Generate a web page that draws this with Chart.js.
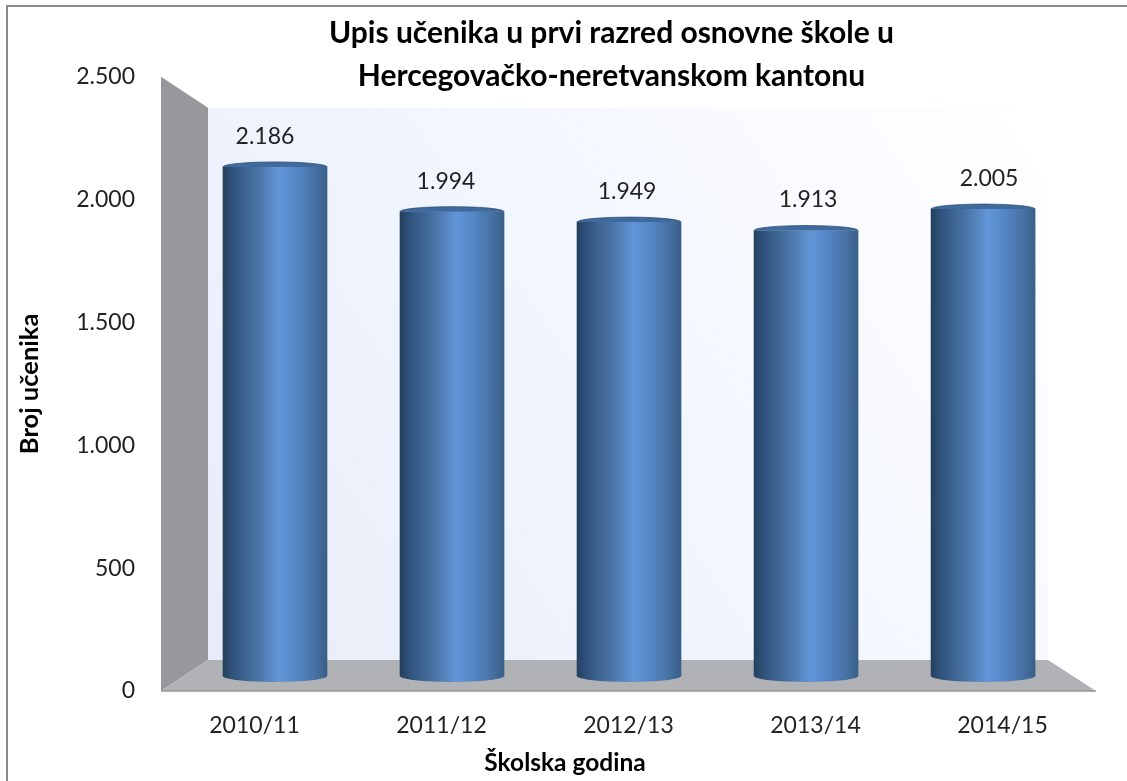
<!DOCTYPE html>
<html><head><meta charset="utf-8">
<style>html,body{margin:0;padding:0;background:#fff}canvas{display:block}</style>
<script src="https://cdn.jsdelivr.net/npm/chart.js@4"></script>
</head><body><canvas id="c" width="1127" height="781"></canvas>
<script>
const categories = ['2010/11','2011/12','2012/13','2013/14','2014/15'];
const enrolment = [2186,1994,1949,1913,2005];
const yTicks = [0,500,1000,1500,2000,2500];
const chartTitle = ['Upis učenika u prvi razred osnovne škole u','Hercegovačko-neretvanskom kantonu'];
const yTitle = 'Broj učenika';
const xTitle = 'Školska godina';
const FONT = 'Lato';
const fmt = v => String(v).replace(/\B(?=(\d{3})+$)/g,'.');

function barGradient(ctx, x0, x1){
  const g = ctx.createLinearGradient(x0,0,x1,0);
  g.addColorStop(0,'#24405f');
  g.addColorStop(0.1,'#31547e');
  g.addColorStop(0.35,'#4b76a8');
  g.addColorStop(0.54,'#6296d8');
  g.addColorStop(0.72,'#5385c4');
  g.addColorStop(0.9,'#456f9f');
  g.addColorStop(1,'#3a5f88');
  return g;
}
const decor = {
  id:'decor',
  afterLayout(chart){ chart.titleBlock.left = 127; },
  beforeDraw(chart){
    const {ctx,chartArea:a} = chart;
    const dx=47, dy=31, backR=a.right-48;
    ctx.save();
    ctx.fillStyle='#8a8a8a';
    ctx.fillRect(6,5,2,776); ctx.fillRect(6,5,1121,2);
    const w=ctx.createLinearGradient(a.left+dx,a.bottom-dy,backR,a.top+dy);
    w.addColorStop(0,'#e7ecf8'); w.addColorStop(0.5,'#f2f6fe'); w.addColorStop(1,'#ffffff');
    ctx.fillStyle=w; ctx.fillRect(a.left+dx,a.top+dy,backR-a.left-dx,a.bottom-dy-a.top-dy);
    ctx.fillStyle='#97989c';
    ctx.beginPath();ctx.moveTo(a.left,a.top);ctx.lineTo(a.left+dx,a.top+dy);ctx.lineTo(a.left+dx,a.bottom-dy);ctx.lineTo(a.left,a.bottom);ctx.closePath();ctx.fill();
    ctx.fillStyle='#b0b2b6';
    ctx.beginPath();ctx.moveTo(a.left,a.bottom);ctx.lineTo(a.left+dx,a.bottom-dy);ctx.lineTo(backR,a.bottom-dy);ctx.lineTo(a.right,a.bottom);ctx.closePath();ctx.fill();
    ctx.strokeStyle='#96989b';ctx.lineWidth=1.5;
    ctx.beginPath();ctx.moveTo(a.left,a.bottom);ctx.lineTo(a.right,a.bottom);ctx.stroke();
    ctx.restore();
  },
  afterDatasetsDraw(chart){
    const {ctx} = chart;
    const meta = chart.getDatasetMeta(0);
    const y0 = chart.scales.y2.getPixelForValue(0);
    ctx.save();
    meta.data.forEach((b,i)=>{
      const rx=b.width/2;
      ctx.fillStyle=barGradient(ctx,b.x-rx,b.x+rx);
      ctx.beginPath();ctx.ellipse(b.x,y0,rx,6,0,0,Math.PI);ctx.fill();
      ctx.fillStyle='#3f6a9e';
      ctx.beginPath();ctx.ellipse(b.x,b.y,rx,5,0,Math.PI,Math.PI*2);ctx.closePath();ctx.fill();
      ctx.strokeStyle='rgba(40,70,110,.7)';ctx.lineWidth=1;
      ctx.beginPath();ctx.ellipse(b.x,b.y,rx,5,0,Math.PI,Math.PI*2);ctx.stroke();
      ctx.fillStyle='#222';
      ctx.font='23px "'+FONT+'"';
      ctx.textAlign='center';ctx.textBaseline='middle';
      ctx.fillText(fmt(enrolment[i]), b.x+(i-2)*4-2, b.y-30.5);
    });
    ctx.restore();
  }
};
new Chart(document.getElementById('c'),{
  type:'bar',
  data:{labels:categories,datasets:[{
    data:enrolment.map((v,i)=>({x:i,y:v})),
    xAxisID:'x2',yAxisID:'y2',
    barThickness:104,borderWidth:0,
    backgroundColor(c){
      const s=c.chart.scales.x2;
      const x=(s&&c.dataIndex!==undefined)?s.getPixelForValue(c.dataIndex):NaN;
      if(!Number.isFinite(x)) return '#4677b3';
      return barGradient(c.chart.ctx,x-52,x+52);
    }
  }]},
  plugins:[decor],
  options:{
    responsive:false,animation:false,
    layout:{padding:{left:14,right:31,top:0,bottom:3}},
    plugins:{
      legend:{display:false},tooltip:{enabled:false},
      title:{display:true,text:chartTitle,color:'#000',
        font:{family:FONT,size:30,weight:'bold',lineHeight:1.43},
        padding:{top:12,bottom:-21}}
    },
    scales:{
      x:{type:'category',position:'bottom',grid:{display:false},border:{display:false},
        ticks:{color:'#222',font:{family:FONT,size:23},padding:13},
        title:{display:true,text:xTitle,color:'#000',font:{family:FONT,size:24.5,weight:'bold'},padding:{top:-4,bottom:0}},
        afterUpdate(s){
          if(s._titleShifted) return; s._titleShifted=true;
          const draw=s.drawTitle;
          s.drawTitle=function(){const r=s.right; s.right=r-127; draw.call(s); s.right=r;};
        }},
      y:{position:'left',min:0,max:2500,afterBuildTicks(s){s.ticks=yTicks.map(v=>({value:v}))},
        grid:{display:false},border:{display:false},
        ticks:{color:'#222',font:{family:FONT,size:23},padding:18,callback:fmt},
        title:{display:true,text:yTitle,color:'#000',font:{family:FONT,size:25.5,weight:'bold'},padding:{top:0,bottom:0}},
        afterFit(s){s.width=147}},
      x2:{type:'linear',display:false,offset:false,min:-0.644,max:4.638},
      y2:{type:'linear',display:false,min:-64.4,max:2573}
    }
  }
});
</script></body></html>
